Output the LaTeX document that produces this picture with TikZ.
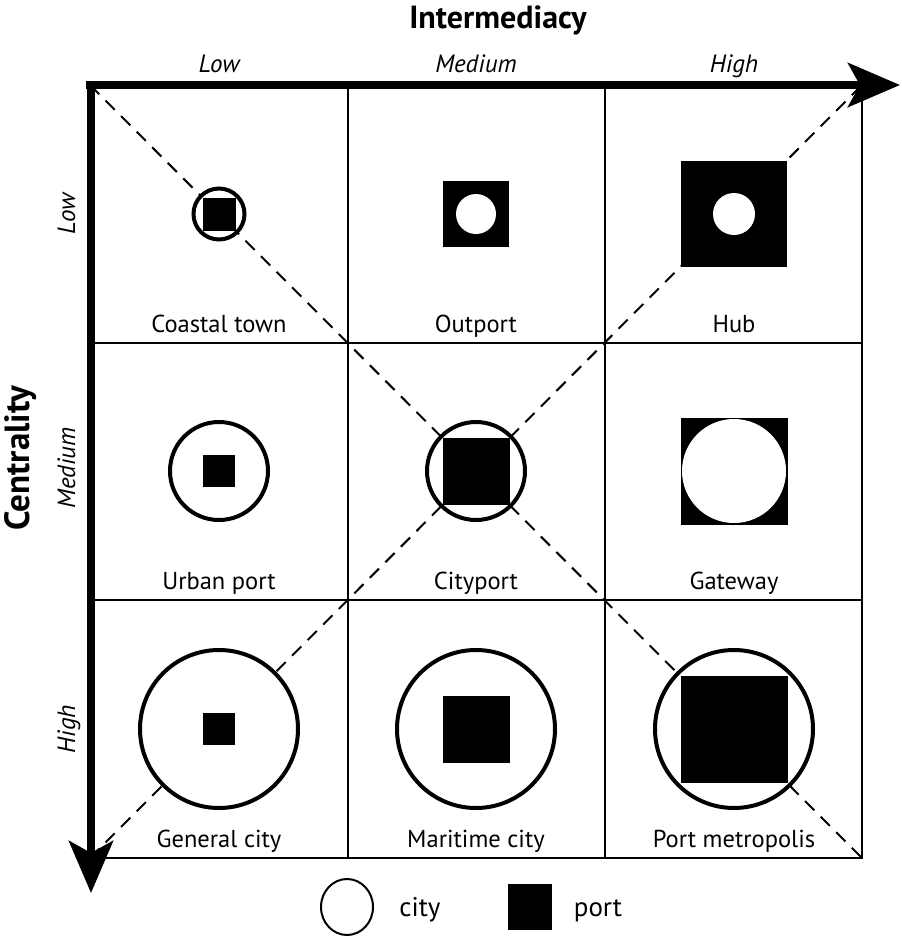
\documentclass[tikz,border=0pt]{standalone}
\usepackage{fontspec}
\setmainfont{PT Sans}
\usetikzlibrary{arrows.meta,shapes.geometric}
\begin{document}
\begin{tikzpicture}[x=1pt,y=-1pt,
  gridline/.style={line width=2pt},
  diagline/.style={line width=2pt, dash pattern=on 13pt off 9pt},
  axisline/.style={line width=8pt, -{Stealth[length=52pt,width=44pt,inset=12pt]}},
  citycirc/.style={circle, draw, line width=4pt, fill=white, inner sep=0pt, minimum size=#1},
  portsq/.style={rectangle, fill=black, inner sep=0pt, minimum size=#1},
  hole/.style={circle, fill=white, inner sep=0pt, minimum size=#1},
  celllabel/.style={font=\fontsize{24.5}{28}\selectfont, anchor=base},
  levellabel/.style={font=\fontsize{25}{28}\selectfont\itshape, anchor=base},
  title/.style={font=\fontsize{#1}{40}\selectfont\bfseries, anchor=base},
  legendtext/.style={font=\fontsize{27}{30}\selectfont, anchor=base}
]
\useasboundingbox (0,0) rectangle (902,938);
\fill[white] (0,0) rectangle (902,938);
% corners
\coordinate (tl) at (90,85);
\coordinate (tr) at (862,85);
\coordinate (bl) at (90,858);
\coordinate (br) at (862,858);
% grid
\draw[gridline] (tl) rectangle (br);
\draw[gridline] (347.5,85) -- (347.5,858);
\draw[gridline] (605,85) -- (605,858);
\draw[gridline] (90,342.5) -- (862,342.5);
\draw[gridline] (90,600) -- (862,600);
% diagonals
\draw[diagline] (tl) -- (br);
\draw[diagline] (bl) -- (tr);
% row 1
\node[citycirc=51] (c11) at (219,214) {};
\node[portsq=33] (p11) at (219,214) {};
\node[portsq=66] (p12) at (476,214) {};
\node[hole=40] (h12) at (476,214) {};
\node[portsq=106] (p13) at (734,214) {};
\node[hole=42] (h13) at (734,214) {};
% row 2
\node[citycirc=98] (c21) at (219,471) {};
\node[portsq=32] (p21) at (219,471) {};
\node[citycirc=98] (c22) at (476,471) {};
\node[portsq=67] (p22) at (476,471) {};
\node[portsq=107] (p23) at (734,471) {};
\node[hole=104] (h23) at (734,471) {};
% row 3
\node[citycirc=158] (c31) at (219,729) {};
\node[portsq=32] (p31) at (219,729) {};
\node[citycirc=158] (c32) at (476,729) {};
\node[portsq=67] (p32) at (476,729) {};
\node[citycirc=158] (c33) at (734,729) {};
\node[portsq=107] (p33) at (734,729) {};
% cell labels
\node[celllabel] (l11) at (219,332) {Coastal town};
\node[celllabel] (l12) at (476,332) {Outport};
\node[celllabel] (l13) at (734,332) {Hub};
\node[celllabel] (l21) at (219,589) {Urban port};
\node[celllabel] (l22) at (476,589) {Cityport};
\node[celllabel] (l23) at (734,589) {Gateway};
\node[celllabel] (l31) at (219,847) {General city};
\node[celllabel] (l32) at (476,847) {Maritime city};
\node[celllabel] (l33) at (734,847) {Port metropolis};
% axes
\coordinate (xs) at (86,85);
\coordinate (xe) at (900,85);
\coordinate (ys) at (91,81);
\coordinate (ye) at (91,893);
\draw[axisline] (xs) -- (xe);
\draw[axisline] (ys) -- (ye);
% axis titles
\node[title=32] (tint) at (498,28) {Intermediacy};
\node[title=35, rotate=90] (tcen) at (30,458) {Centrality};
% level labels
\node[levellabel] (il) at (219,72) {Low};
\node[levellabel] (im) at (476,72) {Medium};
\node[levellabel] (ih) at (734,72) {High};
\node[levellabel, rotate=90] (cl) at (75,214) {Low};
\node[levellabel, rotate=90] (cm) at (75,468) {Medium};
\node[levellabel, rotate=90] (ch) at (75,729) {High};
% legend
\node[ellipse, draw, line width=2pt, minimum width=52pt, minimum height=56pt, inner sep=0pt] (lc) at (347,907) {};
\node[legendtext] (lct) at (420,916) {city};
\node[rectangle, fill=black, minimum width=44pt, minimum height=46pt, inner sep=0pt] (lp) at (530,907) {};
\node[legendtext] (lpt) at (598,916) {port};
\end{tikzpicture}
\end{document}
